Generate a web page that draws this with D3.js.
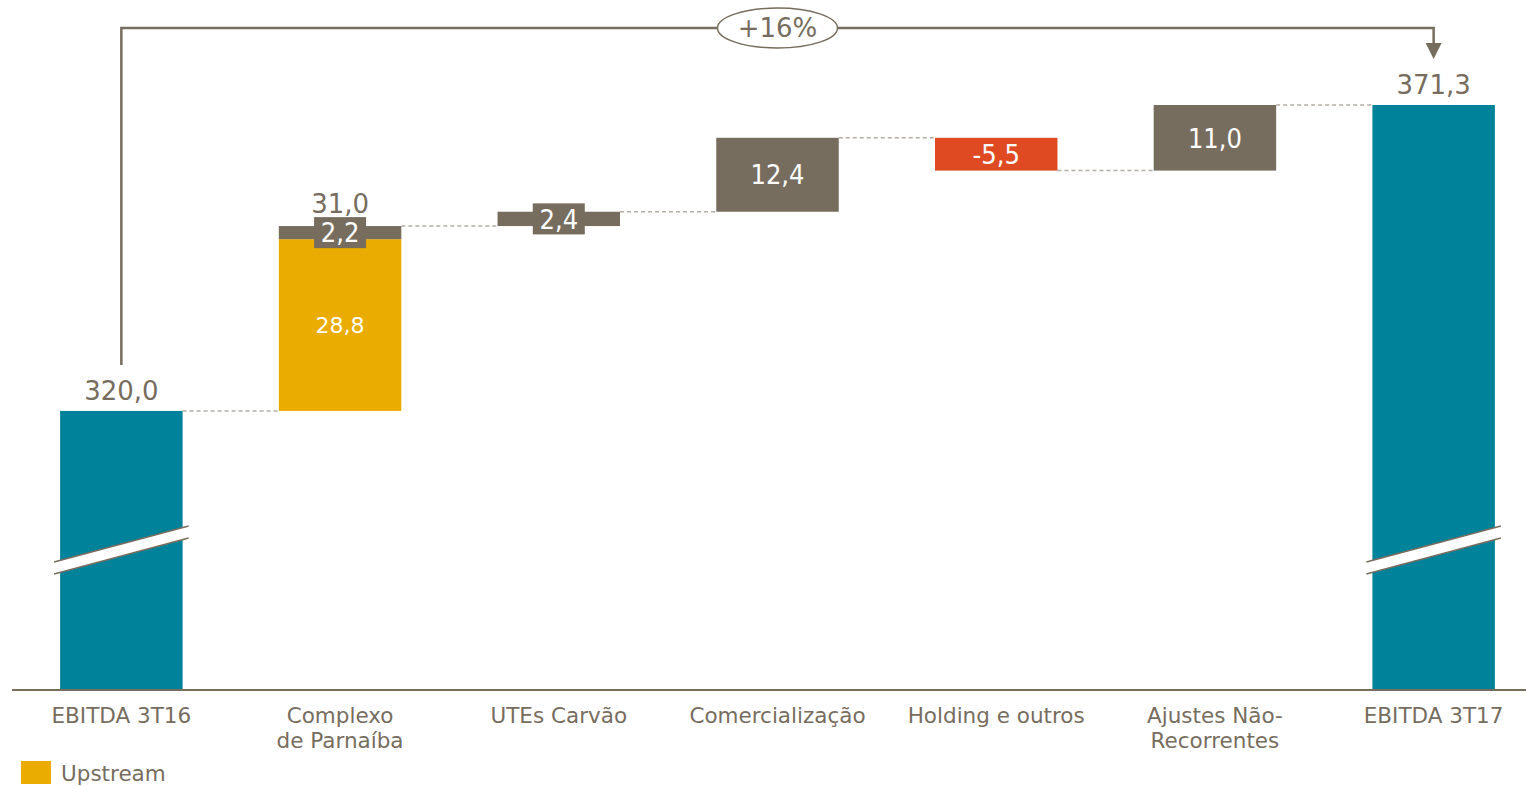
<!DOCTYPE html>
<html>
<head>
<meta charset="utf-8">
<script src="https://cdn.jsdelivr.net/npm/d3@7"></script>
<style>
  body { margin: 0; background: #fff; }
  svg { display: block; font-family: "DejaVu Sans", Verdana, sans-serif; }
</style>
</head>
<body>
<svg id="chart" width="1526" height="786"></svg>
<script>
// chart data
const categories = [
    ["EBITDA 3T16"],
    ["Complexo", "de Parnaíba"],
    ["UTEs Carvão"],
    ["Comercialização"],
    ["Holding e outros"],
    ["Ajustes Não-", "Recorrentes"],
    ["EBITDA 3T17"]
];
const kinds = ["total", "delta", "delta", "delta", "delta", "delta", "total"];
const values = [320.0, 2.2, 2.4, 12.4, -5.5, 11.0, 371.3];
const upstream = [0, 28.8, 0, 0, 0, 0, 0];
const changeLabel = "+16%";
const legendLabel = "Upstream";

const TEAL = "#00829b";
const GOLD = "#eaac00";
const GREY = "#776d5f";
const RED = "#e04a23";
const DASH = "#b3aea7";

const svg = d3.select("#chart");

const x = d3.scaleBand()
    .domain(d3.range(categories.length))
    .range([12, 1543])
    .paddingInner(0.44)
    .paddingOuter(0.22);

// broken axis: bottom of the plot stands for 273.2
const y = d3.scaleLinear()
    .domain([273.2, 371.3])
    .range([690, 105]);

// build the waterfall steps
let running = 0;
const steps = values.map(function (v, i) {
    if (kinds[i] == "total") {
        running = v;
        return { i: i, kind: "total", lo: y.domain()[0], hi: v, value: v };
    }
    const start = running;
    const up = upstream[i];
    const end = start + up + v;
    running = end;
    return { i: i, kind: "delta", start: start, up: up, value: v, end: end };
});

// pt-BR style: comma decimals, plain hyphen for negatives
const fmt = (v) => d3.format(".1f")(v).replace(".", ",").replace("\u2212", "-");

// dashed connectors
for (let k = 0; k < steps.length - 1; k++) {
    const level = steps[k].kind == "total" ? steps[k].hi : steps[k].end;
    svg.append("line")
        .attr("x1", x(k) + x.bandwidth())
        .attr("x2", x(k + 1))
        .attr("y1", y(level))
        .attr("y2", y(level))
        .attr("stroke", DASH)
        .attr("stroke-width", 1.5)
        .attr("stroke-dasharray", "4,3");
}

const g = svg.append("g");

steps.forEach(function (s) {
    const x0 = x(s.i);
    const w = x.bandwidth();
    const cx = x0 + w / 2;
    if (s.kind == "total") {
        g.append("rect")
            .attr("x", x0).attr("width", w)
            .attr("y", y(s.hi)).attr("height", y(s.lo) - y(s.hi))
            .attr("fill", TEAL);
        g.append("text")
            .attr("x", cx).attr("y", y(s.hi) - 11)
            .attr("text-anchor", "middle")
            .attr("font-size", 26).attr("fill", GREY)
            .text(fmt(s.value));
        // axis break mark
        const yb = 550;
        const bx0 = x0 - 6, bx1 = x0 + w + 6;
        const slope = -36;
        g.append("polygon")
            .attr("points", [
                [bx0, yb + 12], [bx1, yb + 12 + slope],
                [bx1, yb + 24 + slope], [bx0, yb + 24]
            ].join(" "))
            .attr("fill", "#fff");
        [12, 24].forEach(function (off) {
            g.append("line")
                .attr("x1", bx0).attr("y1", yb + off)
                .attr("x2", bx1).attr("y2", yb + off + slope)
                .attr("stroke", GREY).attr("stroke-width", 1.5);
        });
        return;
    }

    // upstream part
    if (s.up) {
        const top = s.start + s.up;
        g.append("rect")
            .attr("x", x0).attr("width", w)
            .attr("y", y(top)).attr("height", y(s.start) - y(top))
            .attr("fill", GOLD);
        g.append("text")
            .attr("x", cx).attr("y", (y(top) + y(s.start)) / 2)
            .attr("dy", "0.36em")
            .attr("text-anchor", "middle")
            .attr("font-size", 22).attr("fill", "#fff")
            .text(fmt(s.up));
    }

    const a = s.start + s.up;
    const b = s.end;
    const yTop = y(Math.max(a, b));
    const yBot = y(Math.min(a, b));
    g.append("rect")
        .attr("x", x0).attr("width", w)
        .attr("y", yTop).attr("height", yBot - yTop)
        .attr("fill", s.value < 0 ? RED : GREY);

    const ym = (yTop + yBot) / 2;
    if (yBot - yTop < 30) {
        // small bar: label gets its own box
        g.append("rect")
            .attr("x", cx - 26).attr("width", 52)
            .attr("y", ym - 15.5).attr("height", 31)
            .attr("fill", GREY);
    }
    g.append("text")
        .attr("x", cx).attr("y", ym)
        .attr("dy", "0.36em")
        .attr("text-anchor", "middle")
        .attr("font-family", "'Liberation Sans Narrow', 'DejaVu Sans Condensed', sans-serif")
        .attr("font-size", 27).attr("fill", "#fff")
        .text(fmt(s.value));

    if (s.up) {
        g.append("text")
            .attr("x", cx).attr("y", yTop - 13)
            .attr("text-anchor", "middle")
            .attr("font-size", 26).attr("fill", GREY)
            .text(fmt(s.up + s.value));
    }
});

// baseline
svg.append("line")
    .attr("x1", 12).attr("x2", 1526)
    .attr("y1", 690).attr("y2", 690)
    .attr("stroke", GREY).attr("stroke-width", 2);

// category labels
categories.forEach(function (lines, i) {
    const t = svg.append("text")
        .attr("x", x(i) + x.bandwidth() / 2)
        .attr("y", 723)
        .attr("text-anchor", "middle")
        .attr("font-size", 21.5)
        .attr("fill", GREY);
    lines.forEach(function (line, j) {
        t.append("tspan")
            .attr("x", x(i) + x.bandwidth() / 2)
            .attr("dy", j == 0 ? 0 : 25)
            .text(line);
    });
});

// growth bracket
const first = steps[0], last = steps[steps.length - 1];
const xa = x(first.i) + x.bandwidth() / 2;
const xb = x(last.i) + x.bandwidth() / 2;
const yLine = 28;
svg.append("path")
    .attr("d", `M${xa},${y(first.hi) - 46}V${yLine}H${xb}V${46}`)
    .attr("fill", "none")
    .attr("stroke", GREY)
    .attr("stroke-width", 2.5);
svg.append("path")
    .attr("d", `M${xb - 8},${43}L${xb + 8},${43}L${xb},${59}Z`)
    .attr("fill", GREY);

const cxm = (xa + xb) / 2;
svg.append("ellipse")
    .attr("cx", cxm).attr("cy", yLine)
    .attr("rx", 60).attr("ry", 20)
    .attr("fill", "#fff")
    .attr("stroke", GREY).attr("stroke-width", 1.5);
svg.append("text")
    .attr("x", cxm).attr("y", yLine)
    .attr("dy", "0.36em")
    .attr("text-anchor", "middle")
    .attr("font-size", 26).attr("fill", GREY)
    .text(changeLabel);

// legend
svg.append("rect")
    .attr("x", 21).attr("y", 761)
    .attr("width", 30).attr("height", 23)
    .attr("fill", GOLD);
svg.append("text")
    .attr("x", 61).attr("y", 781)
    .attr("font-size", 21.5).attr("fill", GREY)
    .text(legendLabel);
</script>
</body>
</html>
